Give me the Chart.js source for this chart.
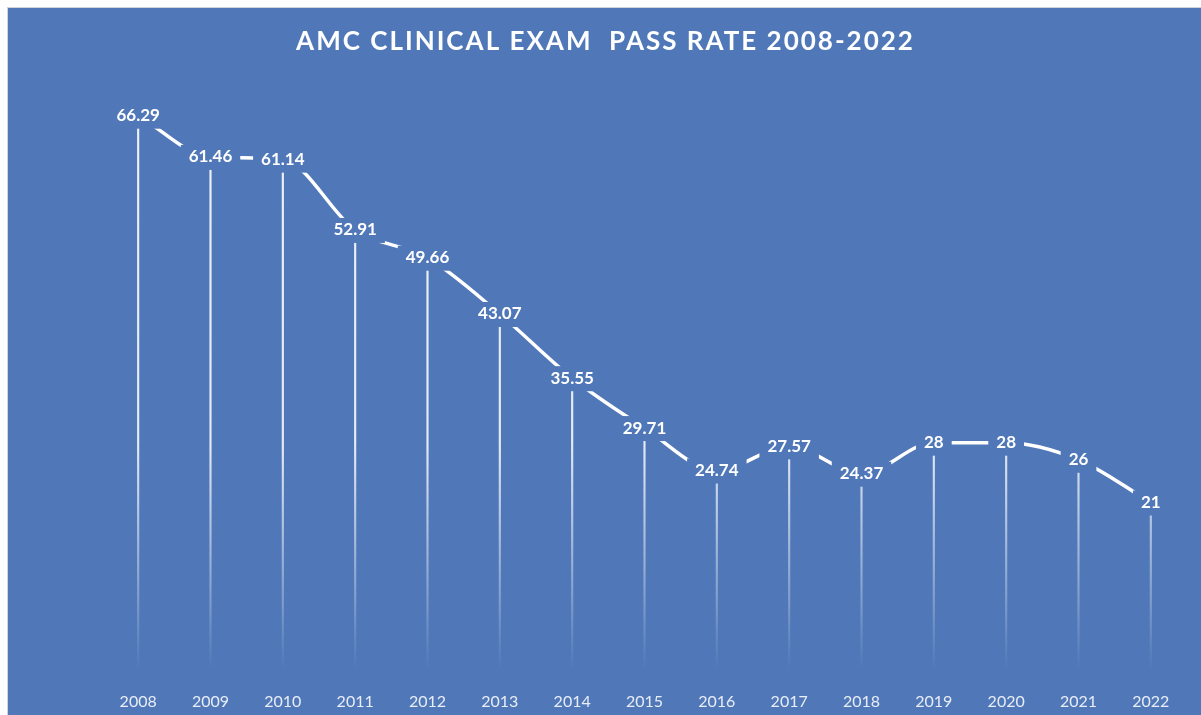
<!DOCTYPE html>
<html>
<head>
<meta charset="utf-8">
<script src="https://cdn.jsdelivr.net/npm/chart.js@4"></script>
<style>
    body { margin: 0; background: #fff; }
    #wrap { position: absolute; left: 7px; top: 7px; width: 1193px; height: 707px;
            border-left: 1px solid #cfd3da; border-top: 1px solid #cfd3da; background: #5078b9; }
    canvas { display: block; }
</style>
</head>
<body>
<div id="wrap"><canvas id="chart" width="1193" height="707"></canvas></div>
<script>
// ------ Data ------
var years = ['2008', '2009', '2010', '2011', '2012', '2013', '2014', '2015',
             '2016', '2017', '2018', '2019', '2020', '2021', '2022'];
var passRates = [66.29, 61.46, 61.14, 52.91, 49.66, 43.07, 35.55, 29.71,
                 24.74, 27.57, 24.37, 28, 28, 26, 21];
var chartTitle = 'AMC CLINICAL EXAM  PASS RATE 2008-2022';

var BG = '#5078b9';

// title drawn by hand so we can letter-space it
var titlePlugin = {
    id: 'spacedTitle',
    afterDraw: function(chart) {
        var ctx = chart.ctx;
        ctx.save();
        ctx.font = 'bold 26px Lato';
        ctx.letterSpacing = '2px';
        ctx.fillStyle = '#ffffff';
        ctx.textAlign = 'center';
        ctx.textBaseline = 'middle';
        ctx.fillText(chartTitle, chart.width / 2 + 1, 34);
        ctx.restore();
    }
};

// value labels sit on the points, with a box of background colour that cuts the line
var valueLabels = {
    id: 'valueLabels',
    afterDatasetsDraw: function(chart) {
        var meta = chart.getDatasetMeta(1);
        var ctx = chart.ctx;
        ctx.save();
        ctx.font = 'bold 17px Lato';
        ctx.textAlign = 'center';
        ctx.textBaseline = 'middle';
        meta.data.forEach(function(pt, i) {
            var txt = String(passRates[i]);
            var w = ctx.measureText(txt).width;
            ctx.fillStyle = BG;
            ctx.fillRect(pt.x - w / 2 - 8, pt.y - 12, w + 16, 25);
            ctx.fillStyle = '#ffffff';
            ctx.fillText(txt, pt.x, pt.y);
        });
        ctx.restore();
    }
};

function dropLineFill(c) {
    var area = c.chart.chartArea;
    if (!area) return 'rgba(255,255,255,0.8)';
    var g = c.chart.ctx.createLinearGradient(0, area.top, 0, area.bottom);
    g.addColorStop(0, 'rgba(255,255,255,0.9)');
    g.addColorStop(0.6, 'rgba(255,255,255,0.85)');
    g.addColorStop(0.85, 'rgba(255,255,255,0.3)');
    g.addColorStop(0.98, 'rgba(255,255,255,0)');
    return g;
}

new Chart(document.getElementById('chart'), {
    data: {
        labels: years,
        datasets: [
            {
                type: 'bar',
                data: passRates,
                backgroundColor: dropLineFill,
                barThickness: 1.5,
                order: 2
            },
            {
                type: 'line',
                data: passRates,
                borderColor: '#ffffff',
                borderWidth: 3.5,
                cubicInterpolationMode: 'monotone',
                pointRadius: 0,
                fill: false,
                order: 1
            }
        ]
    },
    options: {
        responsive: false,
        animation: false,
        layout: { padding: { left: 94, right: 14, top: 76, bottom: 2 } },
        scales: {
            x: {
                grid: { display: false },
                border: { display: false },
                ticks: { color: '#e8edf6', font: { family: 'Lato', size: 16 }, padding: 2 }
            },
            y: {
                display: false,
                min: 0,
                max: 70
            }
        },
        plugins: {
            legend: { display: false },
            tooltip: { enabled: false }
        }
    },
    plugins: [titlePlugin, valueLabels]
});
</script>
</body>
</html>
